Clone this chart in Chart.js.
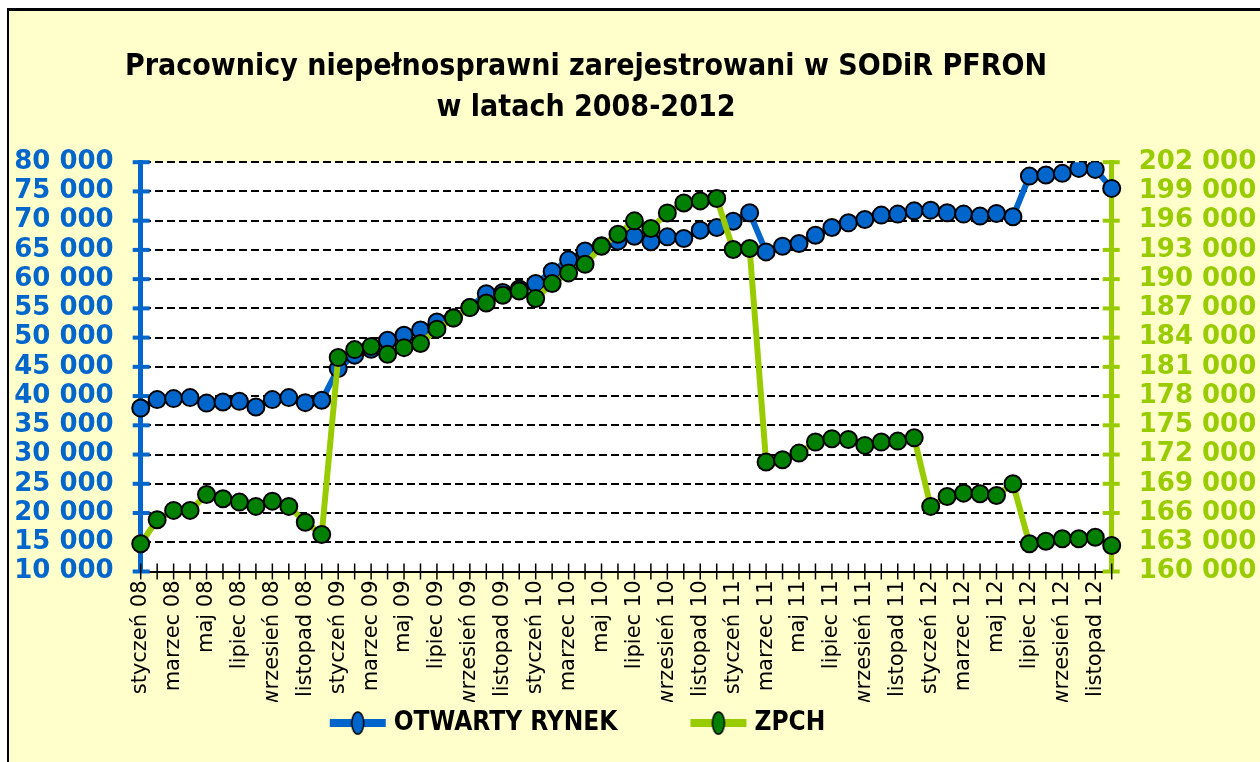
<!doctype html>
<html lang="pl">
  <head>
    <meta charset="utf-8">
    <title>Pracownicy niepełnosprawni zarejestrowani w SODiR PFRON</title>
    <style>
      * {
        margin: 0;
        padding: 0;
      }
      body {
        width: 1260px;
        height: 762px;
        overflow: hidden;
        background: #fff;
        position: relative;
      }
      .frame {
        position: absolute;
        left: 7px;
        top: 8px;
        width: 1300px;
        height: 800px;
        background: #FFFFCC;
        border-left: 2px solid #000;
        border-top: 3px solid #000;
      }
      .chartBox {
        position: absolute;
        left: 0;
        top: 0;
        width: 1260px;
        height: 762px;
      }
    </style>
  </head>
  <body>
    <div class="frame"></div>
    <div class="chartBox">
      <canvas id="myChart" width="1260" height="762"></canvas>
    </div>
    <script src="https://cdn.jsdelivr.net/npm/chart.js/dist/chart.umd.min.js"></script>
    <script>
    // dane
    const months = ['styczeń', 'luty', 'marzec', 'kwiecień', 'maj', 'czerwiec', 'lipiec', 'sierpień', 'wrzesień', 'październik', 'listopad', 'grudzień'];
    const years = ['08', '09', '10', '11', '12'];
    const categories = years.flatMap(yr => months.map(m => m + ' ' + yr));

    const otwartyRynek = [
      37950, 39400, 39570, 39740, 38800, 38990, 39100, 38130, 39400, 39740, 38880, 39280,
      44700, 47000, 48000, 49550, 50400, 51300, 52680, 53400, 55150, 57500, 57700, 58300,
      59250, 61300, 63300, 64800, 65700, 66500, 67350, 66400, 67230, 66960, 68380, 68840,
      69900, 71340, 64660, 65640, 66100, 67520, 68840, 69630, 70210, 70950, 71120, 71680,
      71800, 71340, 71120, 70780, 71240, 70660, 77620, 77800, 78090, 78940, 78770, 75520
    ];
    const zpch = [
      162850, 165310, 166270, 166270, 167900, 167470, 167120, 166680, 167220, 166680, 165060, 163800,
      181950, 182770, 183100, 182290, 182970, 183390, 184870, 186000, 187080, 187550, 188350, 188790,
      188010, 189550, 190640, 191530, 193380, 194610, 195980, 195200, 196800, 197820, 198030, 198280,
      193040, 193140, 171230, 171470, 172150, 173280, 173630, 173550, 172940, 173280, 173380, 173730,
      166680, 167700, 168040, 167980, 167800, 169010, 162850, 163110, 163360, 163360, 163520, 162670
    ];

    const leftMin = 10000, leftMax = 80000, leftStep = 5000;
    const rightMin = 160000, rightMax = 202000, rightStep = 3000;

    const blue = '#0066CC';
    const green = '#99CC00';
    const darkGreen = '#008000';

    const fmt = v => String(v).replace(/\B(?=(\d{3})+(?!\d))/g, ' ');

    // ikona legendy: linia + elipsa
    function legendIcon(lineColor, fillColor) {
      const c = document.createElement('canvas');
      c.width = 130;
      c.height = 26;
      const g = c.getContext('2d');
      g.strokeStyle = lineColor;
      g.lineWidth = 8;
      g.beginPath();
      g.moveTo(72, 13);
      g.lineTo(128, 13);
      g.stroke();
      g.fillStyle = fillColor;
      g.strokeStyle = '#000';
      g.lineWidth = 1.5;
      g.beginPath();
      g.ellipse(100, 13, 6, 11, 0, 0, Math.PI * 2);
      g.fill();
      g.stroke();
      return c;
    }
    const icons = [legendIcon(blue, blue), legendIcon(green, darkGreen)];

    // biale tlo obszaru wykresu
    const plotBg = {
      id: 'plotBg',
      beforeDraw(chart) {
        const {ctx, chartArea: {left, top, width, height}} = chart;
        ctx.save();
        ctx.fillStyle = '#fff';
        ctx.fillRect(left, top, width, height);
        ctx.restore();
      }
    };

    // znaczniki przecinajace osie
    const crossTicks = {
      id: 'crossTicks',
      beforeDatasetsDraw(chart) {
        const {ctx, scales: {x, y, y1}} = chart;
        ctx.save();
        ctx.lineWidth = 4;
        ctx.strokeStyle = blue;
        y.ticks.forEach((t, i) => {
          const py = y.getPixelForTick(i);
          ctx.beginPath(); ctx.moveTo(y.right - 8, py); ctx.lineTo(y.right + 9, py); ctx.stroke();
        });
        ctx.strokeStyle = green;
        y1.ticks.forEach((t, i) => {
          const py = y1.getPixelForTick(i);
          ctx.beginPath(); ctx.moveTo(y1.left - 9, py); ctx.lineTo(y1.left + 8, py); ctx.stroke();
        });
        ctx.lineWidth = 1.5;
        ctx.strokeStyle = '#000';
        x.ticks.forEach((t, i) => {
          const px = x.getPixelForTick(i);
          ctx.beginPath(); ctx.moveTo(px, x.top - 8); ctx.lineTo(px, x.top + 8); ctx.stroke();
        });
        ctx.restore();
      }
    };

    // przesuniecie tytulu i legendy jak w oryginale
    const shiftBlocks = {
      id: 'shiftBlocks',
      afterLayout(chart) {
        chart.titleBlock.right = 2 * 586 - chart.titleBlock.left;
        chart.legend.right = 2 * 549 - chart.legend.left - 8;
      }
    };

    const data = {
      labels: categories,
      datasets: [{
        label: 'OTWARTY RYNEK',
        data: otwartyRynek,
        yAxisID: 'y',
        borderColor: blue,
        borderWidth: 6,
        backgroundColor: blue,
        pointBackgroundColor: blue,
        pointBorderColor: '#000',
        pointBorderWidth: 2,
        pointRadius: 8.5,
        order: 2
      }, {
        label: 'ZPCH',
        data: zpch,
        yAxisID: 'y1',
        borderColor: green,
        borderWidth: 6,
        backgroundColor: darkGreen,
        pointBackgroundColor: darkGreen,
        pointBorderColor: '#000',
        pointBorderWidth: 2,
        pointRadius: 8.5,
        order: 1
      }]
    };

    const config = {
      type: 'line',
      data,
      options: {
        responsive: false,
        animation: false,
        layout: {
          padding: {top: 0, left: 13, right: 3, bottom: 16}
        },
        plugins: {
          tooltip: {enabled: false},
          title: {
            display: true,
            text: ['Pracownicy niepełnosprawni zarejestrowani w SODiR PFRON', 'w latach 2008-2012'],
            color: '#000',
            font: {family: 'DejaVu Sans Condensed', size: 30, weight: 'bold', lineHeight: 1.37},
            padding: {top: 47, bottom: 33}
          },
          legend: {
            position: 'bottom',
            labels: {
              color: '#000',
              font: {family: 'DejaVu Sans Condensed', size: 26, weight: 'bold'},
              usePointStyle: true,
              pointStyleWidth: 116,
              padding: 8,
              generateLabels(chart) {
                return chart.data.datasets.map((ds, i) => ({
                  text: ds.label,
                  pointStyle: icons[i],
                  fillStyle: ds.backgroundColor,
                  strokeStyle: ds.borderColor,
                  lineWidth: 0,
                  fontColor: '#000',
                  hidden: false,
                  datasetIndex: i
                }));
              }
            }
          }
        },
        scales: {
          x: {
            offset: false,
            border: {display: true, color: '#000', width: 2},
            grid: {drawOnChartArea: false, drawTicks: false},
            ticks: {
              autoSkip: false,
              minRotation: 90,
              maxRotation: 90,
              padding: 9,
              color: '#000',
              font: {family: 'DejaVu Sans', size: 21},
              callback: (v, i) => (i % 2 === 0 ? categories[i] : '')
            },
            afterFit: s => { s.height = 130.5; }
          },
          y: {
            position: 'left',
            min: leftMin,
            max: leftMax,
            border: {display: true, color: blue, width: 5, dash: [8, 4]},
            grid: {color: '#000', lineWidth: 2, drawTicks: false},
            ticks: {
              stepSize: leftStep,
              autoSkip: false,
              padding: 27,
              color: blue,
              font: {family: 'DejaVu Sans', size: 26, weight: 'bold'},
              callback: v => fmt(v)
            },
            afterFit: s => { s.width = 127.7; }
          },
          y1: {
            position: 'right',
            min: rightMin,
            max: rightMax,
            border: {display: true, color: green, width: 5},
            grid: {drawOnChartArea: false, drawTicks: false},
            ticks: {
              stepSize: rightStep,
              autoSkip: false,
              padding: 27,
              color: green,
              font: {family: 'DejaVu Sans', size: 26, weight: 'bold'},
              callback: v => fmt(v)
            },
            afterFit: s => { s.width = 145.3; }
          }
        }
      },
      plugins: [plotBg, crossTicks, shiftBlocks]
    };

    const myChart = new Chart(document.getElementById('myChart'), config);
    </script>
  </body>
</html>
